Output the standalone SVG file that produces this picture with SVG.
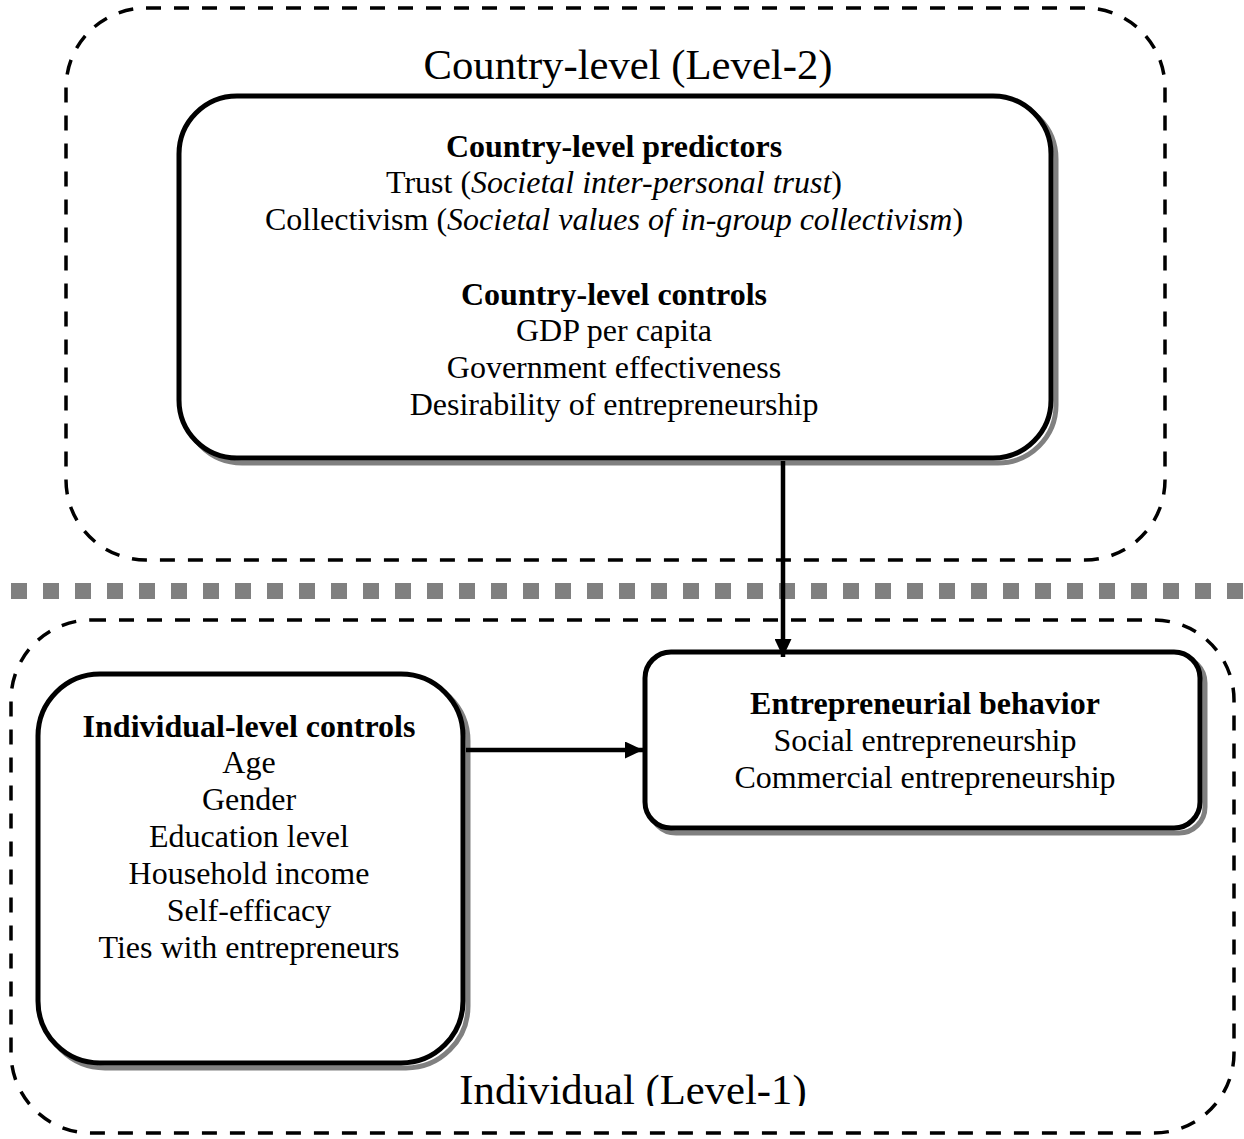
<svg xmlns="http://www.w3.org/2000/svg" width="1244" height="1139" viewBox="0 0 1244 1139">
<style>
.t{font-family:"Liberation Serif","Times New Roman",serif;font-size:32px;fill:#000;text-anchor:middle}
.b{font-weight:bold}
.i{font-style:italic}
.big{font-size:42.7px}
.zone{fill:none;stroke:#000;stroke-width:3.5;stroke-dasharray:15 13}
.box{fill:#fff;stroke:#000;stroke-width:5}
.sh{fill:none;stroke:#808080;stroke-width:5}
.con{stroke:#000;stroke-width:4.5;fill:none}
</style>
<defs>
<marker id="ah" markerUnits="userSpaceOnUse" markerWidth="18" markerHeight="17" refX="18" refY="8.5" orient="auto">
<path d="M0,0 L18,8.5 L0,17 z" fill="#000"/>
</marker>
<clipPath id="clipL1"><rect x="0" y="1040" width="1244" height="66"/></clipPath>
</defs>
<g id="zone-country">
<rect class="zone" x="66" y="8" width="1099" height="552" rx="80" ry="80"/>
<text class="t big" x="628" y="79">Country-level (Level-2)</text>
</g>
<g id="separator">
<line x1="11" y1="591" x2="1244" y2="591" stroke="#808080" stroke-width="16" stroke-dasharray="16 16"/>
</g>
<g id="zone-individual">
<rect class="zone" x="11" y="620" width="1223" height="513" rx="80" ry="80"/>
<text class="t big" x="633" y="1104" clip-path="url(#clipL1)">Individual (Level-1)</text>
</g>
<g id="node-country">
<rect class="sh" x="184" y="101" width="872" height="362" rx="58" ry="58"/>
<rect class="box" x="179" y="96" width="872" height="362" rx="58" ry="58"/>
<text class="t b" x="614" y="157">Country-level predictors</text>
<text class="t" x="614" y="193">Trust (<tspan class="i">Societal inter-personal trust</tspan>)</text>
<text class="t" x="614" y="230">Collectivism (<tspan class="i">Societal values of in-group collectivism</tspan>)</text>
<text class="t b" x="614" y="305">Country-level controls</text>
<text class="t" x="614" y="341">GDP per capita</text>
<text class="t" x="614" y="378">Government effectiveness</text>
<text class="t" x="614" y="415">Desirability of entrepreneurship</text>
</g>
<g id="node-individual">
<rect class="sh" x="43" y="679" width="425" height="389" rx="62" ry="62"/>
<rect class="box" x="38" y="674" width="425" height="389" rx="62" ry="62"/>
<text class="t b" x="249" y="737">Individual-level controls</text>
<text class="t" x="249" y="773">Age</text>
<text class="t" x="249" y="810">Gender</text>
<text class="t" x="249" y="847">Education level</text>
<text class="t" x="249" y="884">Household income</text>
<text class="t" x="249" y="921">Self-efficacy</text>
<text class="t" x="249" y="958">Ties with entrepreneurs</text>
</g>
<g id="node-behavior">
<rect class="sh" x="650" y="657" width="555" height="176" rx="26" ry="26"/>
<rect class="box" x="645" y="652" width="555" height="176" rx="26" ry="26"/>
<text class="t b" x="925" y="714">Entrepreneurial behavior</text>
<text class="t" x="925" y="751">Social entrepreneurship</text>
<text class="t" x="925" y="788">Commercial entrepreneurship</text>
</g>
<g id="connectors">
<line class="con" x1="783" y1="461" x2="783" y2="657" marker-end="url(#ah)"/>
<line class="con" x1="466" y1="750" x2="643" y2="750" marker-end="url(#ah)"/>
</g>
</svg>
